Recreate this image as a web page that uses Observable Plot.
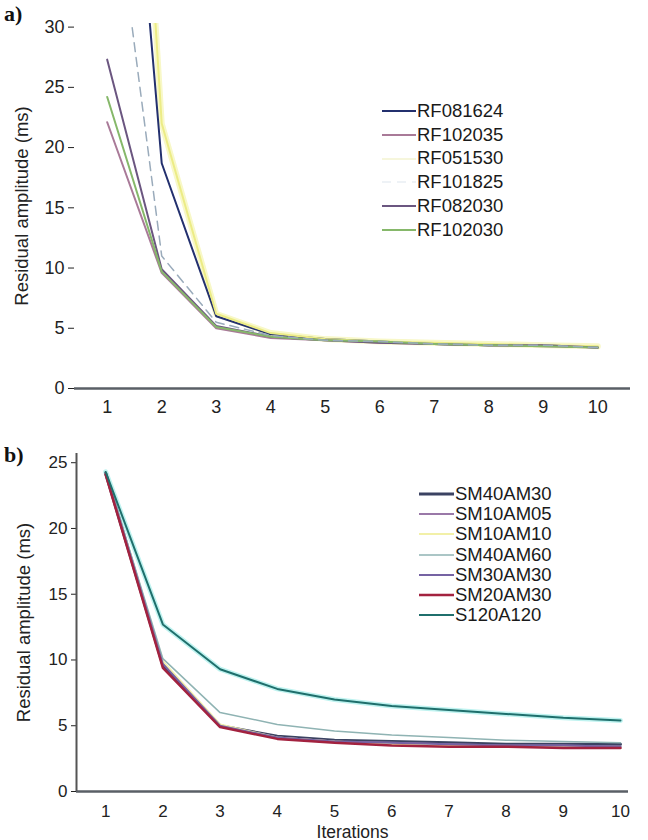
<!DOCTYPE html>
<html><head><meta charset="utf-8">
<script src="https://cdn.jsdelivr.net/npm/d3@7"></script>
<script src="https://cdn.jsdelivr.net/npm/@observablehq/plot@0.6"></script>
<style>
body{margin:0;background:#fff;font-family:"Liberation Sans",Arial,sans-serif;}
#wrap{position:relative;width:648px;height:840px;overflow:hidden;background:#fff}
.panel{position:absolute;left:0}
.tag{position:absolute;font-family:"Liberation Serif","Times New Roman",serif;font-weight:bold;font-size:22px;color:#111}
.legend{position:absolute;font-size:18.5px;color:#1a1a1a}
.legend .row{display:flex;align-items:center;white-space:nowrap}
.legend svg{display:block;margin-right:1px}
</style></head><body><div id="wrap"></div>
<script>
// ---------- data ----------
const iterations = [1, 2, 3, 4, 5, 6, 7, 8, 9, 10];
const xTickLabels = [1, 2, 3, 4, 5, 6, 7, 8, 9, 10];
const yTicksA = [0, 5, 10, 15, 20, 25, 30];
const yTicksB = [0, 5, 10, 15, 20, 25];

// panel a series
const seriesA = ["RF081624", "RF102035", "RF051530", "RF101825", "RF082030", "RF102030"];
const colorsA = ["#23306e", "#a97a98", "#ecec86", "#9aabbb", "#6b5680", "#86b86a"];
const legendColorsA = ["#23306e", "#a97a98", "#f6f6dc", "#eef2f6", "#6b5680", "#86b86a"];
const dashedA = ["RF101825"];
const RF081624 = [72, 18.7, 6.0, 4.5, 4.1, 3.9, 3.7, 3.6, 3.6, 3.4];
const RF102035 = [22.1, 9.6, 5.0, 4.2, 4.0, 3.8, 3.7, 3.6, 3.5, 3.4];
const RF051530 = [95, 22.0, 6.2, 4.6, 4.1, 3.9, 3.8, 3.7, 3.6, 3.5];
const RF101825 = [46, 11.0, 5.5, 4.4, 4.0, 3.9, 3.7, 3.6, 3.6, 3.4];
const RF082030 = [27.3, 9.9, 5.2, 4.3, 4.0, 3.8, 3.7, 3.6, 3.6, 3.4];
const RF102030 = [24.2, 9.7, 5.1, 4.3, 4.0, 3.9, 3.7, 3.6, 3.5, 3.4];
const valuesA = [RF081624, RF102035, RF051530, RF101825, RF082030, RF102030];

// panel b series
const seriesB = ["SM40AM30", "SM10AM05", "SM10AM10", "SM40AM60", "SM30AM30", "SM20AM30", "S120A120"];
const colorsB = ["#3b4262", "#9a78a8", "#f2f0a8", "#8fb3b3", "#7563a3", "#a3223f", "#1f6f6c"];
const widthsB = [3, 2, 2, 1.5, 2, 2.5, 2];
const SM40AM30 = [24.2, 9.6, 5.0, 4.2, 3.9, 3.8, 3.7, 3.6, 3.6, 3.6];
const SM10AM05 = [24.2, 9.8, 5.0, 4.1, 3.8, 3.7, 3.6, 3.5, 3.5, 3.4];
const SM10AM10 = [24.2, 9.9, 5.1, 4.1, 3.8, 3.6, 3.5, 3.4, 3.4, 3.3];
const SM40AM60 = [24.3, 10.1, 6.0, 5.1, 4.6, 4.3, 4.1, 3.9, 3.8, 3.7];
const SM30AM30 = [24.2, 9.7, 5.0, 4.1, 3.8, 3.7, 3.6, 3.5, 3.5, 3.4];
const SM20AM30 = [24.1, 9.4, 4.9, 4.0, 3.7, 3.5, 3.4, 3.4, 3.3, 3.3];
const S120A120 = [24.3, 12.7, 9.3, 7.8, 7.0, 6.5, 6.2, 5.9, 5.6, 5.4];
const valuesB = [SM40AM30, SM10AM05, SM10AM10, SM40AM60, SM30AM30, SM20AM30, S120A120];

// ---------- build ----------
const rowsA = seriesA.flatMap((s, i) => iterations.map((it, j) => ({series: s, iter: it, value: valuesA[i][j]})));
const rowsB = seriesB.flatMap((s, i) => iterations.map((it, j) => ({series: s, iter: it, value: valuesB[i][j]})));

const wrap = document.getElementById("wrap");
const font = "'Liberation Sans', Arial, sans-serif";

const plotA = Plot.plot({
  width: 648, height: 430,
  marginLeft: 74, marginRight: 18, marginTop: 23, marginBottom: 42,
  style: {fontSize: "18px", fontFamily: font, color: "#222", background: "transparent", overflow: "visible"},
  x: {domain: [0.4, 10.6], ticks: xTickLabels, tickSize: 0, tickPadding: 12, label: null, tickFormat: d => String(d)},
  y: {domain: [0, 30.3], ticks: yTicksA, tickSize: 6, tickPadding: 4, label: "Residual amplitude (ms)", labelAnchor: "center", labelArrow: "none", labelOffset: 60},
  color: {domain: seriesA, range: colorsA},
  marks: [
    Plot.ruleY([0], {stroke: "#5a5f66", strokeWidth: 2.5}),
    Plot.line(rowsA.filter(d => d.series === "RF051530"), {x: "iter", y: "value", stroke: "#f8f8c8", strokeWidth: 6, clip: true}),
    Plot.line(rowsA.filter(d => !dashedA.includes(d.series)), {x: "iter", y: "value", z: "series", stroke: "series", strokeWidth: 2, clip: true}),
    Plot.line(rowsA.filter(d => dashedA.includes(d.series)), {x: "iter", y: "value", z: "series", stroke: "series", strokeWidth: 1.5, strokeDasharray: "9,6", clip: true})
  ]
});
plotA.classList.add("panel");
plotA.style.top = "0px";
wrap.appendChild(plotA);

const plotB = Plot.plot({
  width: 648, height: 410,
  marginLeft: 76, marginRight: 20, marginTop: 23, marginBottom: 49,
  style: {fontSize: "17px", fontFamily: font, color: "#222", background: "transparent", overflow: "visible"},
  x: {domain: [0.49, 10.14], ticks: xTickLabels, tickSize: 0, tickPadding: 13, label: "Iterations", labelAnchor: "center", labelArrow: "none", labelOffset: 46, tickFormat: d => String(d)},
  y: {domain: [0, 25.7], ticks: yTicksB, tickSize: 5, tickPadding: 4, label: "Residual amplitude (ms)", labelAnchor: "center", labelArrow: "none", labelOffset: 60},
  color: {domain: seriesB, range: colorsB},
  marks: [
    Plot.ruleY([0], {stroke: "#5a5f66", strokeWidth: 2.5}),
    Plot.ruleX([0.49], {stroke: "#555", strokeWidth: 2}),
    Plot.line(rowsB.filter(d => d.series === "S120A120"), {x: "iter", y: "value", stroke: "#bff3f0", strokeWidth: 5}),
    ...seriesB.map((s, i) => Plot.line(rowsB.filter(d => d.series === s), {x: "iter", y: "value", stroke: "series", strokeWidth: widthsB[i], clip: true}))
  ]
});
plotB.classList.add("panel");
plotB.style.top = "430px";
wrap.appendChild(plotB);
plotB.querySelectorAll("[aria-label='x-axis label'] text").forEach(t => { t.style.fontSize = "17.5px"; });
plotA.querySelectorAll("[aria-label='y-axis label'] text").forEach(t => { t.style.fontSize = "18.5px"; });
plotB.querySelectorAll("[aria-label='y-axis label'] text").forEach(t => { t.style.fontSize = "18.5px"; });

// panel tags
function tag(txt, x, y) {
  const d = document.createElement("div");
  d.className = "tag"; d.textContent = txt;
  d.style.left = x + "px"; d.style.top = y + "px";
  wrap.appendChild(d);
}
tag("a)", 4, 1);
tag("b)", 4, 442);

// legends
function legend(names, colors, x, y, rowH, lineW, widths, dashed) {
  const L = document.createElement("div");
  L.className = "legend";
  L.style.left = x + "px"; L.style.top = y + "px";
  names.forEach((n, i) => {
    const r = document.createElement("div");
    r.className = "row"; r.style.height = rowH + "px";
    const sw = widths ? widths[i] : 2;
    const dash = dashed && dashed.includes(n) ? 'stroke-dasharray="9,6"' : "";
    r.innerHTML = `<svg width="${lineW}" height="${rowH}"><line x1="0" x2="${lineW}" y1="${rowH/2}" y2="${rowH/2}" stroke="${colors[i]}" stroke-width="${sw}" ${dash}/></svg><span>${n}</span>`;
    L.appendChild(r);
  });
  wrap.appendChild(L);
}
legend(seriesA, legendColorsA, 382, 99, 23.8, 34, null, dashedA);
legend(seriesB, colorsB, 419, 484, 20.2, 35, widthsB, null);
</script>
</body></html>
